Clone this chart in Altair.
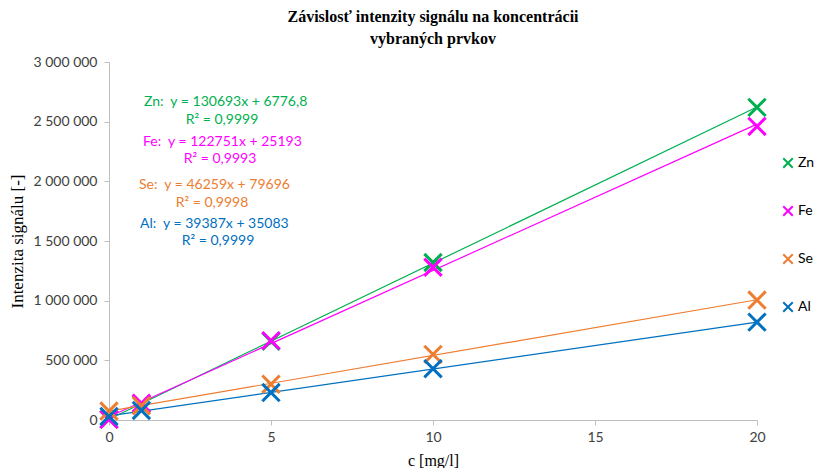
import altair as alt
import pandas as pd

conc = [0, 1, 5, 10, 20]
elements = ["Zn", "Fe", "Se", "Al"]
colors = ["#00B050", "#FF00FF", "#ED7D31", "#0070C0"]
zn = [5000, 135000, 660000, 1320000, 2620000]
fe = [5000, 140000, 665000, 1280000, 2460000]
se = [75000, 120000, 300000, 550000, 1005000]
al = [30000, 80000, 230000, 430000, 820000]
equations = ["Zn:\u00a0 y = 130693x + 6776,8", "Fe:\u00a0 y = 122751x + 25193",
             "Se:\u00a0 y = 46259x + 79696", "Al:\u00a0 y = 39387x + 35083"]
r2 = ["R² = 0,9999", "R² = 0,9993", "R² = 0,9998", "R² = 0,9999"]

rows = []
for name, vals in zip(elements, [zn, fe, se, al]):
    for c, v in zip(conc, vals):
        rows.append({"c": c, "I": v, "prvok": name})
df = pd.DataFrame(rows)

SANS = "Lato"
SERIF = "Liberation Serif"
XMARK = "M-1,-1L1,1M-1,1L1,-1"

color = alt.Color("prvok:N", scale=alt.Scale(domain=elements, range=colors),
                  sort=elements,
                  legend=alt.Legend(title=None, orient="none", legendX=672, legendY=94,
                                    symbolType=XMARK, symbolSize=90, symbolStrokeWidth=2,
                                    symbolFillColor="transparent",
                                    labelFont=SANS, labelFontSize=14, labelColor="#000000",
                                    rowPadding=30, labelOffset=3))

x = alt.X("c:Q", scale=alt.Scale(domain=[0, 20], nice=False),
          axis=alt.Axis(title="c [mg/l]", values=[0, 5, 10, 15, 20], grid=False,
                        labelFlush=False,
                        titleFont=SERIF, titleFontSize=16, titleFontWeight="normal",
                        titleColor="#000000", titlePadding=8,
                        labelFont=SANS, labelFontSize=14, labelColor="#404040",
                        domainColor="#BFBFBF", tickColor="#BFBFBF", tickSize=5,
                        labelPadding=5))
y = alt.Y("I:Q", scale=alt.Scale(domain=[0, 3000000], nice=False),
          axis=alt.Axis(title="Intenzita signálu [-]",
                        values=[0, 500000, 1000000, 1500000, 2000000, 2500000, 3000000],
                        grid=False, labelOverlap=False, labelFlush=False,
                        labelExpr="replace(format(datum.value, ','), /,/g, ' ')",
                        titleFont=SERIF, titleFontSize=17, titleFontWeight="normal",
                        titleColor="#000000", titlePadding=6,
                        labelFont=SANS, labelFontSize=14, labelColor="#404040",
                        domainColor="#BFBFBF", tickColor="#BFBFBF", tickSize=5,
                        labelPadding=7))

base = alt.Chart(df)
lines = base.transform_regression("c", "I", groupby=["prvok"], extent=[0, 20]).mark_line(
    strokeWidth=1.2, clip=False).encode(x=x, y=y, color=color)
points = base.mark_point(shape=XMARK, size=300, strokeWidth=3, filled=False,
                         opacity=1, clip=False).encode(x=x, y=y, color=color)

ann_layers = []
eq_pos = [(35, 40), (34, 80), (30, 123), (31, 162)]
r2_pos = [(113, 58), (111, 97), (103, 141), (109, 179)]
for i in range(4):
    ann_layers.append(alt.Chart(pd.DataFrame({"t": [equations[i]]})).mark_text(
        align="left", baseline="middle", font=SANS, fontSize=14, color=colors[i]).encode(
        text="t:N", x=alt.value(eq_pos[i][0]), y=alt.value(eq_pos[i][1])))
    ann_layers.append(alt.Chart(pd.DataFrame({"t": [r2[i]]})).mark_text(
        align="center", baseline="middle", font=SANS, fontSize=14, color=colors[i]).encode(
        text="t:N", x=alt.value(r2_pos[i][0]), y=alt.value(r2_pos[i][1])))

chart = alt.layer(lines, points, *ann_layers).properties(
    width=648, height=358,
    autosize=alt.AutoSizeParams(type="none"),
    padding={"left": 101, "top": 54, "right": 60, "bottom": 48},
    title=alt.TitleParams(["Závislosť intenzity signálu na koncentrácii", "vybraných prvkov"],
                          font=SERIF, fontSize=16, fontWeight="bold", color="#000000",
                          anchor="middle", lineHeight=22, offset=8),
).configure_view(stroke=None)

chart.save("out.html", embed_options={"renderer": "svg", "actions": False})
